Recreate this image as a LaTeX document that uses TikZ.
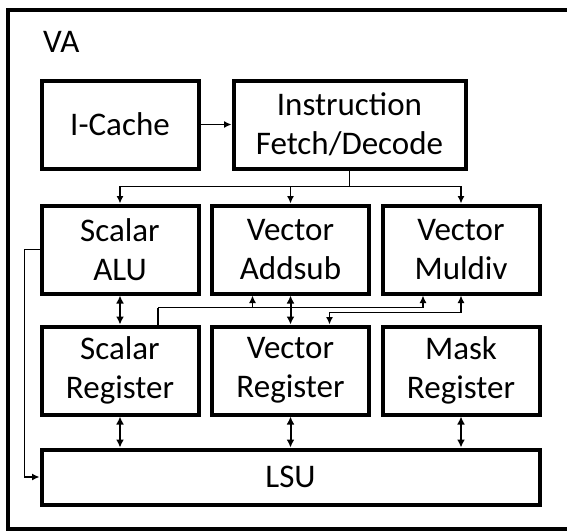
\documentclass[tikz,border=0pt]{standalone}
\usepackage{fontspec}
\setmainfont{Carlito}
\usetikzlibrary{positioning,calc,arrows.meta}
\tikzset{block/.style={draw,line width=4pt,minimum width=157pt,minimum height=88pt,align=center,font=\fontsize{33}{39}\selectfont},
         bus/.style={line width=1.3pt,-{Latex[length=7.5pt,width=7pt]}},
         busboth/.style={line width=1.3pt,{Latex[length=7.5pt,width=7pt]}-{Latex[length=7.5pt,width=7pt]}},
         link/.style={line width=2pt,{Latex[length=8pt,width=8pt]}-{Latex[length=8pt,width=8pt]}}
}

\begin{document}
\begin{tikzpicture}[x=1pt,y=1pt]
\useasboundingbox (0,0) rectangle (567,-531);
\clip (0,0) rectangle (567,-531);
\draw[line width=4pt] (8,-10) rectangle (590,-529);
\node[anchor=base west,inner sep=0pt,font=\fontsize{33}{39}\selectfont] (va) at (43,-52) {VA};

\node[block] (icache) at (120,-124.5) {I-Cache};
\node[block,minimum width=232pt,right=31pt of icache] (ifd) {Instruction\\Fetch/Decode};
\node[block,below=33pt of icache] (alu) {Scalar\\ALU};
\node[block,right=9.5pt of alu] (addsub) {Vector\\Addsub};
\node[block,right=9.5pt of addsub] (muldiv) {Vector\\Muldiv};
\node[block,below=29pt of alu] (sreg) {Scalar\\Register};
\node[block,below=29pt of addsub] (vreg) {Vector\\Register};
\node[block,below=29pt of muldiv] (mreg) {Mask\\Register};
\node[block,minimum width=498pt,minimum height=55pt,below=31pt of vreg] (lsu) {LSU};

\draw[bus] (icache) -- (ifd);
\draw[line width=1.3pt] (ifd.south) -- ++(0,-16) coordinate (split);
\draw[bus] (split) -| (alu);
\draw[bus] (split) -| (addsub);
\draw[bus] (split) -| (muldiv);
\draw[link] (alu) -- (sreg);
\draw[link] (addsub) -- (vreg);
\draw[link] (sreg) -- (sreg |- lsu.north);
\draw[link] (vreg) -- (lsu);
\draw[link] (mreg) -- (mreg |- lsu.north);
\draw[bus] (alu.west) -- ++(-15,0) |- (lsu.west);
% scalar operands to the vector units
\draw[line width=1.3pt] ([xshift=38pt]sreg.north) -- ++(0,17) coordinate (srtap);
\coordinate (addin) at ([xshift=-38pt]addsub.south);
\draw[bus] (srtap) -| ([xshift=-38pt]muldiv.south);
\draw[bus] (addin |- srtap) -- (addin);
\draw[busboth] (muldiv.south) -- ++(0,-17) -| ([xshift=39pt]vreg.north);

\end{tikzpicture}
\end{document}
